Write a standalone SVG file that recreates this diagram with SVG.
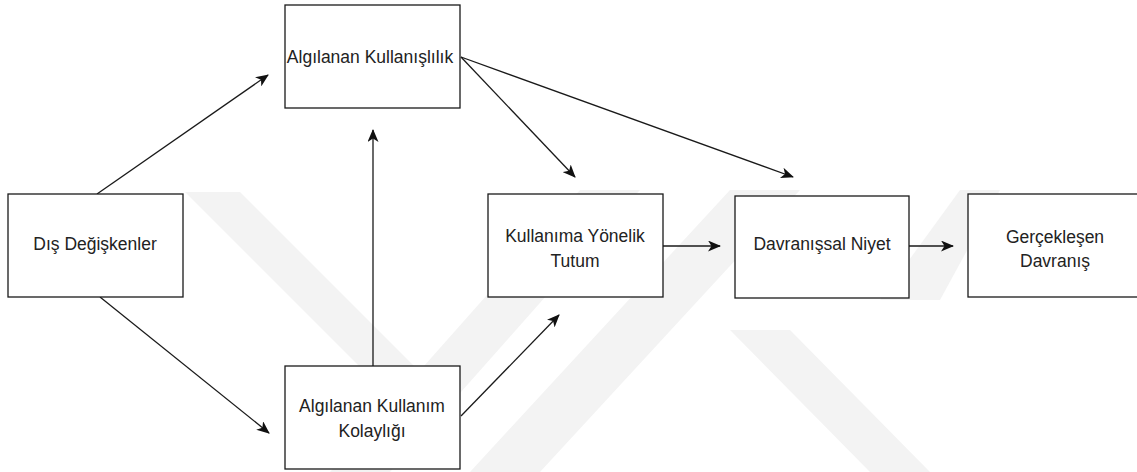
<svg xmlns="http://www.w3.org/2000/svg" width="1137" height="472" viewBox="0 0 1137 472">
  <style>
    .bg { fill: #ffffff; }
    .mark { fill: #f3f3f3; }
    .box { fill: #ffffff; stroke: #1a1a1a; stroke-width: 1.3; }
    .lbl { font-family: "Liberation Sans", Arial, sans-serif; font-size: 17.5px; fill: #222222; text-anchor: middle; }
    .edge { fill: none; stroke: #1a1a1a; stroke-width: 1.3; marker-end: url(#arrow); }
  </style>
  <defs>
    <marker id="arrow" markerUnits="userSpaceOnUse" viewBox="0 0 13 11" refX="12" refY="5.5" markerWidth="13" markerHeight="11" orient="auto">
      <path d="M0,0 L13,5.5 L0,11 L3.5,5.5 Z" fill="#111111"/>
    </marker>
  </defs>

  <rect class="bg" x="0" y="0" width="1137" height="472"/>

  <!-- faint background emblem -->
  <g id="emblem">
    <polygon class="mark" points="185,192 240,192 420,372 365,372"/>
    <polygon class="mark" points="330,472 390,472 640,190 580,190"/>
    <polygon class="mark" points="470,472 540,472 800,190 730,190"/>
    <polygon class="mark" points="730,330 790,330 930,472 870,472"/>
    <polygon class="mark" points="880,300 940,300 1000,190 960,190"/>
  </g>

  <!-- connectors -->
  <g id="connectors">
    <line class="edge" x1="97" y1="194" x2="268" y2="75"/>
    <line class="edge" x1="100" y1="297" x2="269" y2="433"/>
    <line class="edge" x1="373" y1="366" x2="373" y2="130"/>
    <line class="edge" x1="461" y1="416" x2="559" y2="315"/>
    <line class="edge" x1="461" y1="57" x2="575" y2="177"/>
    <line class="edge" x1="461" y1="57" x2="793" y2="177"/>
    <line class="edge" x1="663" y1="246" x2="720" y2="246"/>
    <line class="edge" x1="909" y1="246" x2="953" y2="246"/>
  </g>

  <!-- nodes -->
  <g id="algilanan-kullanislilik">
    <rect class="box" x="285" y="5" width="175" height="103"/>
    <text class="lbl" transform="translate(370,63) scale(1,1.08)">Algılanan Kullanışlılık</text>
  </g>
  <g id="dis-degiskenler">
    <rect class="box" x="8" y="194" width="175" height="103"/>
    <text class="lbl" transform="translate(95,250) scale(1,1.08)">Dış Değişkenler</text>
  </g>
  <g id="algilanan-kullanim-kolayligi">
    <rect class="box" x="285" y="366" width="175" height="103"/>
    <text class="lbl" transform="translate(372,412) scale(1,1.08)">Algılanan Kullanım</text>
    <text class="lbl" transform="translate(372,437) scale(1,1.08)">Kolaylığı</text>
  </g>
  <g id="kullanima-yonelik-tutum">
    <rect class="box" x="488" y="194" width="175" height="103"/>
    <text class="lbl" transform="translate(575,242) scale(1,1.08)">Kullanıma Yönelik</text>
    <text class="lbl" transform="translate(575,267) scale(1,1.08)">Tutum</text>
  </g>
  <g id="davranissal-niyet">
    <rect class="box" x="735" y="196" width="174" height="102"/>
    <text class="lbl" transform="translate(822,250) scale(1,1.08)">Davranışsal Niyet</text>
  </g>
  <g id="gerceklesen-davranis">
    <rect class="box" x="968" y="194" width="175" height="103"/>
    <text class="lbl" transform="translate(1055,243) scale(1,1.08)">Gerçekleşen</text>
    <text class="lbl" transform="translate(1055,267) scale(1,1.08)">Davranış</text>
  </g>
</svg>
